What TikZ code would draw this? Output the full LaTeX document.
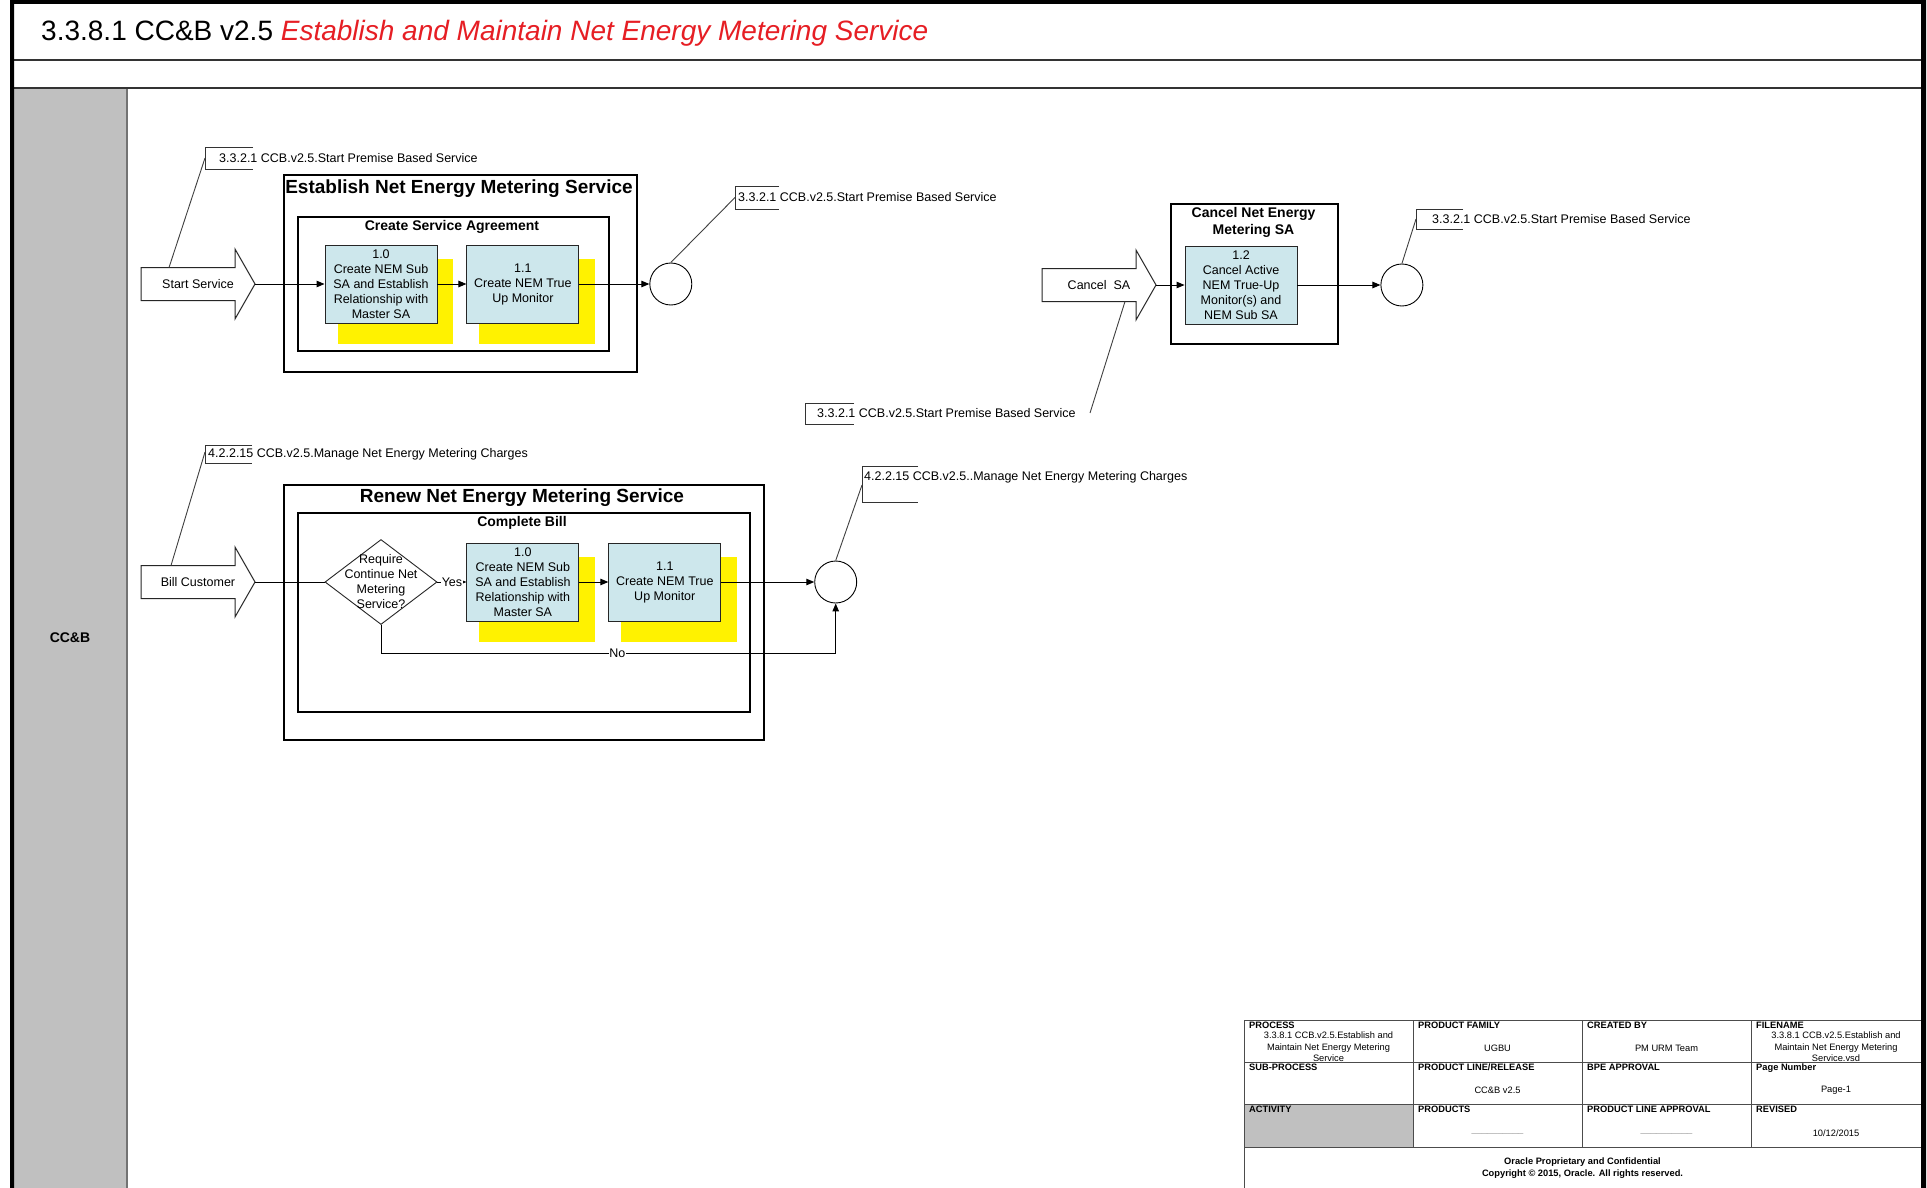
\documentclass[tikz,border=0pt]{standalone}
\usepackage{fontspec}
\setmainfont{Liberation Sans}
\usetikzlibrary{positioning, arrows.meta, shapes.geometric, backgrounds}

\definecolor{taskblue}{RGB}{205,231,236}
\definecolor{lanegray}{RGB}{192,192,192}
\definecolor{titlered}{RGB}{230,30,36}

% block arrow drawn round a trigger node
\newcommand{\trigshape}[1]{%
  \draw[black!85, line width=1pt] ([shift={(-57,-16.5)}]#1.center) -- ++(94,0) -- ++(0,-18.5)
    -- ++(20,35) -- ++(-20,35) -- ++(0,-18.5) -- ++(-94,0) -- cycle;}

\begin{document}
\begin{tikzpicture}[x=1pt, y=-1pt,
    task/.style={draw=black!85, line width=0.9pt, fill=taskblue, minimum width=112pt, minimum height=78pt,
      inner sep=1pt, align=center, font=\fontsize{12.5}{15}\selectfont},
    grpbox/.style={draw=black, line width=2.2pt, anchor=north west, inner sep=0pt},
    subbox/.style={draw=black, line width=1.7pt, anchor=north west, inner sep=0pt},
    grptitle/.style={font=\bfseries\fontsize{19}{23}\selectfont, inner sep=0pt},
    subtitle/.style={font=\bfseries\fontsize{14}{17}\selectfont, align=center, inner sep=0pt},
    endpt/.style={circle, draw=black, line width=0.9pt, fill=white, minimum size=42pt, inner sep=0pt},
    decision/.style={diamond, draw=black!85, line width=0.9pt, fill=white, minimum width=112pt,
      minimum height=85pt, inner sep=0pt},
    trig/.style={font=\fontsize{12.5}{15}\selectfont, align=center, inner sep=0pt},
    reftext/.style={font=\fontsize{12.5}{15}\selectfont, anchor=west, inner sep=0pt},
    bracket/.style={draw=black!80, line width=1pt},
    leader/.style={black!75, line width=0.9pt},
    flow/.style={black, line width=1pt, -{Triangle[length=8pt, width=6.5pt]}},
    lbl/.style={font=\fontsize{12.5}{15}\selectfont, fill=white, inner sep=0.8pt},
    tbhead/.style={font=\bfseries\fontsize{9.3}{11}\selectfont, anchor=north west, inner sep=0pt},
    tbval/.style={font=\fontsize{9.3}{11.5}\selectfont, align=center, inner sep=0pt},
    tbline/.style={draw=black!70, line width=1pt}]

  \useasboundingbox (0,0) rectangle (1927,1188);

  % frame, title and lane
  \fill[lanegray] (14,88) rectangle (127,1188);
  \draw[black!55, line width=1.5pt] (127,88) -- (127,1188);
  \draw[black!80, line width=1.5pt] (14,60) -- (1921,60) (14,88) -- (1921,88);
  \fill[black] (10,0) rectangle (14,1188) (10,0) rectangle (1926,4) (1921,0) rectangle (1926,1188);
  \node[anchor=base west, inner sep=0pt, font=\fontsize{28}{34}\selectfont] (title) at (41,41)
    {3.3.8.1 CC\&B v2.5 \textcolor{titlered}{\itshape Establish and Maintain Net Energy Metering Service}};
  \node[font=\bfseries\fontsize{14}{17}\selectfont] (lane) at (70,638) {CC\&B};

  % establish
  \node[grpbox, minimum width=353pt, minimum height=197pt] (estbox) at (283,174) {};
  \node[grptitle] (esttitle) at (459,189) {Establish Net Energy Metering Service};
  \node[subbox, minimum width=311pt, minimum height=134pt] (csabox) at (297,216) {};
  \node[subtitle] (csatitle) at (452,227) {Create Service Agreement};
  \node[task] (t10) at (381,284) {1.0\\Create NEM Sub\\SA and Establish\\Relationship with\\Master SA};
  \node[task, right=29pt of t10] (t11) {1.1\\Create NEM True\\Up Monitor};
  \node[endpt, right=70pt of t11] (endA) {};

  \node[trig] (st) at (198,284) {Start Service};
  \trigshape{st}
  \coordinate (st-tip) at ([shift={(57,0)}]st.center);
  \coordinate (st-top) at ([shift={(-29,-16.5)}]st.center);

  \draw[bracket] (253,148) -- (205,148) -- (205,169) -- (253,169);
  \node[reftext] (refA) at (219,158) {3.3.2.1 CCB.v2.5.Start Premise Based Service};
  \coordinate (refA-l) at (205,158);
  \draw[bracket] (779,186) -- (735,186) -- (735,209) -- (779,209);
  \node[reftext] (refB) at (738,197.5) {3.3.2.1 CCB.v2.5.Start Premise Based Service};
  \coordinate (refB-l) at (735,197.5);

  \path[flow]
    (st-tip) edge (t10)
    (t10) edge (t11)
    (t11) edge (endA);
  \path[leader]
    (refA-l) edge (st-top)
    (endA.north) edge (refB-l);

  % cancel
  \node[grpbox, minimum width=167pt, minimum height=140pt] (cnlbox) at (1170,203) {};
  \node[subtitle] (cnltitle) at (1253.5,222) {Cancel Net Energy\\Metering SA};
  \node[task] (t12) at (1241,285) {1.2\\Cancel Active\\NEM True-Up\\Monitor(s) and\\NEM Sub SA};
  \node[endpt, right=83pt of t12] (endB) {};

  \node[trig] (cn) at (1099,285) {Cancel\ \ SA};
  \trigshape{cn}
  \coordinate (cn-tip) at ([shift={(57,0)}]cn.center);
  \coordinate (cn-bot) at ([shift={(26,16.5)}]cn.center);

  \draw[bracket] (1463,209) -- (1416,209) -- (1416,229) -- (1463,229);
  \node[reftext] (refC) at (1432,219) {3.3.2.1 CCB.v2.5.Start Premise Based Service};
  \coordinate (refC-l) at (1416,219);
  \draw[bracket] (854,403) -- (805,403) -- (805,424) -- (854,424);
  \node[reftext] (refD) at (817,413.5) {3.3.2.1 CCB.v2.5.Start Premise Based Service};
  \coordinate (refD-r) at (1090,413);

  \path[flow]
    (cn-tip) edge (t12)
    (t12) edge (endB);
  \path[leader]
    (endB.north) edge (refC-l)
    (refD-r) edge (cn-bot);

  % renew
  \node[grpbox, minimum width=480pt, minimum height=255pt] (renbox) at (283,484) {};
  \node[grptitle] (rentitle) at (522,498) {Renew Net Energy Metering Service};
  \node[subbox, minimum width=452pt, minimum height=199pt] (cbbox) at (297,512) {};
  \node[subtitle] (cbtitle) at (522,523) {Complete Bill};
  \node[decision] (dec) at (381,582) {};
  \node[trig] (dectext) at (dec) {Require\\Continue Net\\Metering\\Service?};
  \node[task, right=29pt of dec] (r10) {1.0\\Create NEM Sub\\SA and Establish\\Relationship with\\Master SA};
  \node[task, right=29pt of r10] (r11) {1.1\\Create NEM True\\Up Monitor};
  \node[endpt, right=93pt of r11] (endC) {};
  \coordinate (nobend) at ([yshift=-50pt]endC.south);

  \node[trig] (bc) at (198,582) {Bill Customer};
  \trigshape{bc}
  \coordinate (bc-tip) at ([shift={(57,0)}]bc.center);
  \coordinate (bc-top) at ([shift={(-27,-16.5)}]bc.center);

  \draw[bracket] (252,445) -- (205,445) -- (205,463) -- (252,463);
  \node[reftext] (refE) at (208,454) {4.2.2.15 CCB.v2.5.Manage Net Energy Metering Charges};
  \coordinate (refE-l) at (205,452);
  \draw[bracket] (918,466) -- (862,466) -- (862,502) -- (918,502);
  \node[reftext] (refF) at (864,477) {4.2.2.15 CCB.v2.5..Manage Net Energy Metering Charges};
  \coordinate (refF-l) at (862,485);

  \draw[black, line width=1pt] (bc-tip) -- (dec);
  \path[flow]
    (dec) edge node[lbl] {Yes} (r10)
    (r10) edge (r11)
    (r11) edge (endC);
  \draw[flow] (dec.south) |- node[lbl, pos=0.76] {No} (nobend) -- (endC.south);
  \path[leader]
    (refE-l) edge (bc-top)
    (endC.north) edge (refF-l);

  % title block
  \fill[lanegray] (1244,1104) rectangle (1413,1147);
  \node[tbhead] (hproc) at (1249,1022) {PROCESS};
  \node[tbhead] (hfam) at (1418,1022) {PRODUCT FAMILY};
  \node[tbhead] (hby) at (1587,1022) {CREATED BY};
  \node[tbhead] (hfile) at (1756,1022) {FILENAME};
  \node[tbhead] (hsub) at (1249,1064) {SUB-PROCESS};
  \node[tbhead] (hline) at (1418,1064) {PRODUCT LINE/RELEASE};
  \node[tbhead] (hbpe) at (1587,1064) {BPE APPROVAL};
  \node[tbhead] (hpage) at (1756,1064) {Page Number};
  \node[tbhead] (hact) at (1249,1106) {ACTIVITY};
  \node[tbhead] (hprod) at (1418,1106) {PRODUCTS};
  \node[tbhead] (happ) at (1587,1106) {PRODUCT LINE APPROVAL};
  \node[tbhead] (hrev) at (1756,1106) {REVISED};
  \node[tbval] (vproc) at (1328.5,1047) {3.3.8.1 CCB.v2.5.Establish and\\Maintain Net Energy Metering\\Service};
  \node[tbval] (vfam) at (1497.5,1048) {UGBU};
  \node[tbval] (vby) at (1666.5,1048) {PM URM Team};
  \node[tbval] (vfile) at (1836,1047) {3.3.8.1 CCB.v2.5.Establish and\\Maintain Net Energy Metering\\Service.vsd};
  \node[tbval] (vline) at (1497.5,1090) {CC\&B v2.5};
  \node[tbval] (vpage) at (1836,1090) {Page-1};
  \node[tbval, text=black!40] (vprod) at (1497.5,1133) {\_\_\_\_\_\_\_\_\_\_};
  \node[tbval, text=black!40] (vapp) at (1666.5,1133) {\_\_\_\_\_\_\_\_\_\_};
  \node[tbval] (vrev) at (1836,1133) {10/12/2015};
  \node[tbval, font=\bfseries\fontsize{9.3}{11.5}\selectfont] (foot) at (1582.5,1168)
    {Oracle Proprietary and Confidential\\Copyright © 2015, Oracle. All rights reserved.};
  \draw[tbline] (1244,1188) -- (1244,1020) -- (1921,1020);
  \foreach \y in {1062,1104,1147} \draw[tbline] (1244,\y) -- (1921,\y);
  \foreach \x in {1413,1582,1751} \draw[tbline] (\x,1020) -- (\x,1147);

  % page and task shadows
  \begin{scope}[on background layer]
    \fill[white] (0,0) rectangle (1927,1188);
    \foreach \n in {t10,t11,r10,r11}
      \fill[yellow] ([shift={(13,14)}]\n.north west) rectangle ([shift={(16,21)}]\n.south east);
  \end{scope}
\end{tikzpicture}
\end{document}
